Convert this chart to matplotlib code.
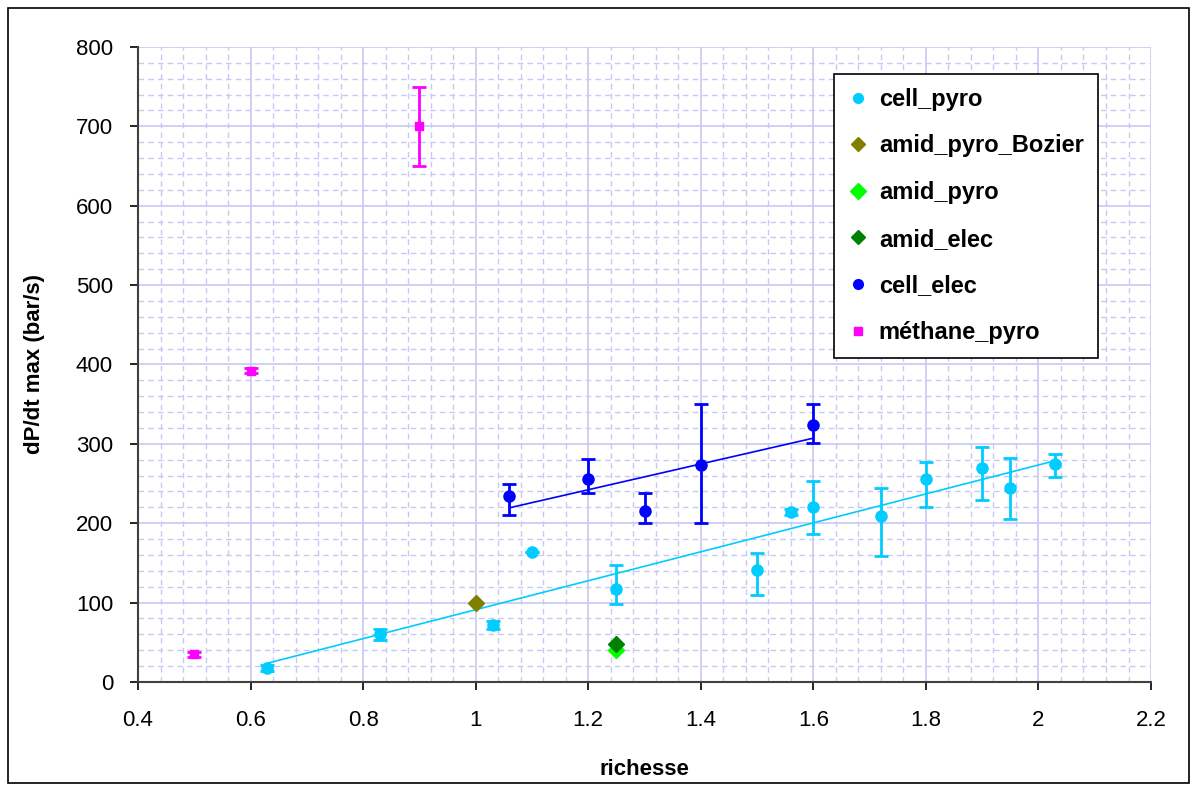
import numpy as np
import matplotlib
matplotlib.use("Agg")
import matplotlib.pyplot as plt
from matplotlib.patches import Rectangle
from matplotlib.lines import Line2D
from matplotlib.ticker import MultipleLocator

plt.rcParams['font.family'] = ['Liberation Sans', 'DejaVu Sans']

# cell_pyro
cp_x = [0.63, 0.83, 1.03, 1.10, 1.25, 1.50, 1.56, 1.60, 1.72, 1.80, 1.90, 1.95, 2.03]
cp_y = [18, 60, 72, 164, 117, 141, 214, 221, 209, 256, 269, 244, 275]
cp_lo = [4, 7, 5, 0, 19, 31, 4, 35, 50, 35, 40, 39, 17]
cp_hi = [4, 7, 5, 0, 31, 21, 4, 32, 36, 21, 27, 38, 12]

# cell_elec
ce_x = [1.06, 1.20, 1.30, 1.40, 1.60]
ce_y = [234, 256, 215, 273, 324]
ce_lo = [24, 18, 15, 73, 23]
ce_hi = [15, 25, 23, 77, 26]

# méthane_pyro
me_x = [0.5, 0.6, 0.9]
me_y = [35, 392, 700]
me_err = [3, 3, 50]

# diamonds
bozier_x, bozier_y = [1.0], [100]
ap_x, ap_y = [1.25], [40]
ae_x, ae_y = [1.25], [48]

c_cyan = '#00CCFF'
c_blue = '#0000FF'
c_mag = '#FF00FF'
c_olive = '#808000'
c_lime = '#00FF00'
c_dgreen = '#008000'

fig = plt.figure(figsize=(11.96, 7.91), dpi=100)
ax = fig.add_axes([0.1154, 0.1378, 0.8470, 0.8028])

fig.patches.append(Rectangle((0.007, 0.010), 0.987, 0.980, transform=fig.transFigure,
                             fill=False, edgecolor='black', linewidth=1.2))

# trend lines (linear fits)
k, b = np.polyfit(cp_x, cp_y, 1)
xx = np.array([min(cp_x), max(cp_x)])
ax.plot(xx, k * xx + b, color=c_cyan, lw=1.2, zorder=3)
k2, b2 = np.polyfit(ce_x, ce_y, 1)
xx2 = np.array([min(ce_x), max(ce_x)])
ax.plot(xx2, k2 * xx2 + b2, color=c_blue, lw=1.2, zorder=3)

ax.errorbar(cp_x, cp_y, yerr=[cp_lo, cp_hi], fmt='o', color=c_cyan, ms=8,
            elinewidth=2, capsize=5, capthick=2, zorder=4)
ax.plot(bozier_x, bozier_y, 'D', color=c_olive, ms=8, zorder=5)
ax.plot(ap_x, ap_y, 'D', color=c_lime, ms=8, zorder=5)
ax.plot(ae_x, ae_y, 'D', color=c_dgreen, ms=8, zorder=5)
ax.errorbar(ce_x, ce_y, yerr=[ce_lo, ce_hi], fmt='o', color=c_blue, ms=8,
            elinewidth=2, capsize=5, capthick=2, zorder=4)
ax.errorbar(me_x, me_y, yerr=me_err, fmt='s', color=c_mag, ms=6,
            elinewidth=2, capsize=5, capthick=2, zorder=4)

ax.set_xlim(0.4, 2.2)
ax.set_ylim(0, 800)
ax.xaxis.set_minor_locator(MultipleLocator(0.04))
ax.yaxis.set_major_locator(MultipleLocator(100))
ax.yaxis.set_minor_locator(MultipleLocator(20))
ax.set_xticks(np.arange(0.4, 2.21, 0.2))
ax.set_xticklabels(['0.4', '0.6', '0.8', '1', '1.2', '1.4', '1.6', '1.8', '2', '2.2'])

ax.grid(which='major', color='#C8C8F5', lw=1.2, ls='-')
ax.grid(which='minor', color='#C8C8F5', lw=1.0, ls=(0, (4, 3)))
ax.set_axisbelow(True)

for s in ['top', 'right']:
    ax.spines[s].set_visible(False)
for s in ['left', 'bottom']:
    ax.spines[s].set_color('#404040')
    ax.spines[s].set_linewidth(1.5)

ax.tick_params(which='major', direction='out', length=6, width=1.2, labelsize=16)
ax.tick_params(axis='x', pad=14)
ax.tick_params(axis='y', pad=12)
ax.tick_params(which='minor', length=0)

ax.set_xlabel('richesse', fontsize=16, fontweight='bold', labelpad=20)
ax.set_ylabel('dP/dt max (bar/s)', fontsize=16, fontweight='bold', labelpad=22)

handles = [
    Line2D([], [], ls='none', marker='o', color=c_cyan, ms=7),
    Line2D([], [], ls='none', marker='D', color=c_olive, ms=7),
    Line2D([], [], ls='none', marker='D', color=c_lime, ms=8),
    Line2D([], [], ls='none', marker='D', color=c_dgreen, ms=7),
    Line2D([], [], ls='none', marker='o', color=c_blue, ms=7),
    Line2D([], [], ls='none', marker='s', color=c_mag, ms=6),
]
labels = ['cell_pyro', 'amid_pyro_Bozier', 'amid_pyro', 'amid_elec', 'cell_elec', 'méthane_pyro']
leg = ax.legend(handles, labels, loc='upper left', bbox_to_anchor=(0.687, 0.958),
                prop={'weight': 'bold', 'size': 17},
                labelspacing=1.0, handlelength=0.8, handletextpad=0.5,
                borderpad=0.6, borderaxespad=0, fancybox=False, framealpha=1,
                edgecolor='black')
leg.get_frame().set_linewidth(1.2)

fig.savefig('out.png', dpi=100)
